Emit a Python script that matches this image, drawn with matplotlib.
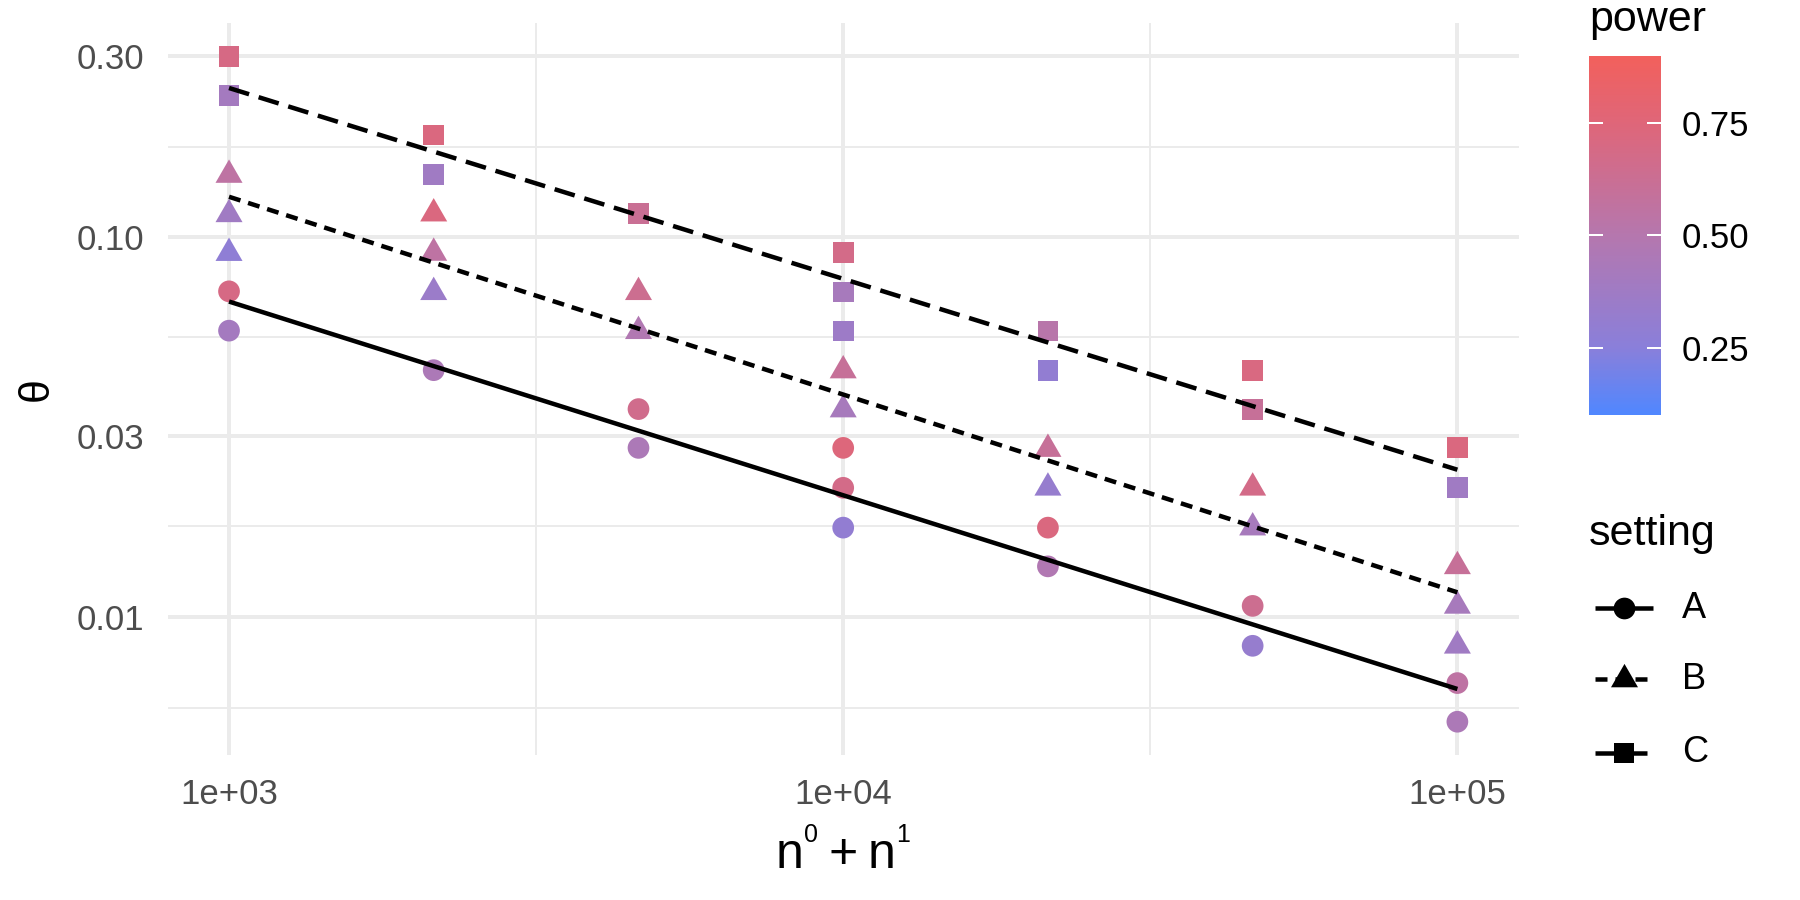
import numpy as np
import matplotlib
matplotlib.use("Agg")
import matplotlib.pyplot as plt
from matplotlib.colors import LinearSegmentedColormap, Normalize
from matplotlib.cm import ScalarMappable
from matplotlib.path import Path
from matplotlib.transforms import IdentityTransform

plt.rcParams['font.family'] = ['Liberation Sans', 'DejaVu Sans']
plt.rcParams['lines.scale_dashes'] = False

# --- data (n0 + n1, theta, power) ---
n_A = [1000, 1000, 2154, 4642, 4642, 10000, 10000, 10000, 21544, 21544, 46416, 46416, 100000, 100000]
theta_A = [0.0721, 0.0568, 0.0447, 0.0353, 0.0279, 0.0279, 0.0219, 0.0172, 0.0172, 0.0136, 0.0107, 0.0084, 0.0067, 0.0053]
power_A = [0.70, 0.40, 0.45, 0.66, 0.45, 0.74, 0.68, 0.30, 0.72, 0.48, 0.64, 0.32, 0.55, 0.45]

n_B = [1000, 1000, 1000, 2154, 2154, 2154, 4642, 4642, 10000, 10000, 21544, 21544, 46416, 46416, 100000, 100000, 100000]
theta_B = [0.146, 0.115, 0.0909, 0.1155, 0.091, 0.0717, 0.0717, 0.0566, 0.0446, 0.0352, 0.0277, 0.0219, 0.0219, 0.0172, 0.0136, 0.0107, 0.0084]
power_B = [0.55, 0.38, 0.28, 0.72, 0.55, 0.35, 0.64, 0.48, 0.60, 0.42, 0.60, 0.32, 0.68, 0.42, 0.60, 0.42, 0.38]

n_C = [1000, 1000, 2154, 2154, 4642, 10000, 10000, 10000, 21544, 21544, 46416, 46416, 100000, 100000]
theta_C = [0.300, 0.236, 0.186, 0.1466, 0.1155, 0.0911, 0.0718, 0.0567, 0.0567, 0.0446, 0.0446, 0.0352, 0.0280, 0.0219]
power_C = [0.70, 0.40, 0.72, 0.38, 0.62, 0.68, 0.42, 0.36, 0.52, 0.30, 0.71, 0.60, 0.72, 0.38]

setting_labels = ['A', 'B', 'C']
x_breaks = [1e3, 1e4, 1e5]
x_break_labels = ['1e+03', '1e+04', '1e+05']
y_breaks = [0.01, 0.03, 0.10, 0.30]
y_break_labels = ['0.01', '0.03', '0.10', '0.30']
power_limits = (0.10, 0.90)
power_breaks = [0.25, 0.50, 0.75]
power_break_labels = ['0.25', '0.50', '0.75']

W, H = 1800, 900
PT = 72 / 100  # points per pixel at dpi 100

# triangle centred on its centroid, like R's pch 17
TRI = Path([(0, 1), (-0.866, -0.5), (0.866, -0.5), (0, 1)],
           [Path.MOVETO, Path.LINETO, Path.LINETO, Path.CLOSEPOLY])

cmap = LinearSegmentedColormap.from_list('power', [
    (0.0, '#5087FF'), (0.1875, '#8A7FDA'), (0.5, '#B577AE'),
    (0.8125, '#DF6679'), (1.0, '#F2605C')])
norm = Normalize(*power_limits)

groups = [
    (n_A, theta_A, power_A, 'o', (21.7 * PT) ** 2, dict(linestyle='-')),
    (n_B, theta_B, power_B, TRI, (31.2 * PT) ** 2, dict(dashes=(12 * PT, 8 * PT))),
    (n_C, theta_C, power_C, 's', (20.7 * PT) ** 2, dict(dashes=(21 * PT, 10 * PT))),
]

fig = plt.figure(figsize=(18, 9), dpi=100)
ax = fig.add_axes([167.6 / W, 1 - 755 / H, (1518.8 - 167.6) / W, (755 - 23) / H])
ax.set_xscale('log')
ax.set_yscale('log')

for n, th, pw, mk, size, ls in groups:
    ax.scatter(n, th, c=pw, cmap=cmap, norm=norm, marker=mk, s=size, linewidths=0, zorder=2)

# straight-line fit in log-log space per setting
for n, th, pw, mk, size, ls in groups:
    lx = np.log10(n)
    slope, icpt = np.polyfit(lx, np.log10(th), 1)
    xs = np.array([lx.min(), lx.max()])
    ax.plot(10 ** xs, 10 ** (icpt + slope * xs), color='black', lw=4.5 * PT,
            solid_capstyle='butt', dash_capstyle='butt', zorder=3, **ls)


def minor_breaks(breaks):
    lb = np.log10(breaks)
    ext = np.concatenate([[lb[0] - (lb[1] - lb[0])], lb, [lb[-1] + (lb[-1] - lb[-2])]])
    return 10 ** ((ext[:-1] + ext[1:]) / 2)


ax.set_xticks(x_breaks)
ax.set_xticklabels(x_break_labels)
ax.set_xticks(minor_breaks(x_breaks), minor=True)
ax.set_yticks(y_breaks)
ax.set_yticklabels(y_break_labels)
ax.set_yticks(minor_breaks(y_breaks), minor=True)
ax.xaxis.set_minor_formatter(plt.NullFormatter())
ax.yaxis.set_minor_formatter(plt.NullFormatter())

# ggplot-style 5% expansion in log space (after ticks, which would widen the view)
all_x = np.log10(n_A + n_B + n_C)
all_y = np.log10(theta_A + theta_B + theta_C)
ax.set_xlim(10 ** (all_x.min() - 0.05 * np.ptp(all_x)), 10 ** (all_x.max() + 0.05 * np.ptp(all_x)))
ax.set_ylim(10 ** (all_y.min() - 0.05 * np.ptp(all_y)), 10 ** (all_y.max() + 0.05 * np.ptp(all_y)))

ax.tick_params(which='both', length=0)
ax.tick_params(axis='both', labelsize=25, labelcolor='#4D4D4D', pad=23 * PT)
ax.set_axisbelow(True)
ax.grid(which='major', color='#EBEBEB', lw=4 * PT)
ax.grid(which='minor', color='#EBEBEB', lw=2 * PT)
for sp in ax.spines.values():
    sp.set_visible(False)

# axis titles
fig.text(37 / W, 1 - 389 / H, '\u03b8', rotation=90, ha='center', va='center', fontsize=31)

renderer = fig.canvas.get_renderer()
pieces = [('n', 36, 0, 0), ('0', 18, 26, 1), ('+', 36, 0, 10), ('n', 36, 0, 10), ('1', 18, 26, 1)]
texts, widths, total = [], [], 0
for s, fs, rise, gap in pieces:
    t = fig.text(0, 0, s, fontsize=fs, ha='left', va='baseline', transform=IdentityTransform())
    w = t.get_window_extent(renderer).width
    texts.append(t)
    widths.append(w)
    total += w + gap
x0 = 843 - total / 2
for t, w, (s, fs, rise, gap) in zip(texts, widths, pieces):
    x0 += gap
    t.set_position((x0, H - 868 + rise))
    x0 += w

# colour bar legend
fig.text(1589 / W, 1 - 31 / H, 'power', fontsize=31, ha='left', va='baseline')
cax = fig.add_axes([1589 / W, 1 - 415 / H, 71.6 / W, 359.3 / H])
cb = fig.colorbar(ScalarMappable(norm=norm, cmap=cmap), cax=cax, ticks=power_breaks)
cb.set_ticklabels(power_break_labels)
cb.outline.set_visible(False)
cax.minorticks_off()
cax.tick_params(which='both', direction='in', length=14 * PT, width=2 * PT, color='white',
                left=True, right=True, labelleft=False, labelright=True,
                labelsize=25, labelcolor='black', pad=21.4 * PT)

# shape / linetype legend
fig.text(1589 / W, 1 - 545 / H, 'setting', fontsize=31, ha='left', va='baseline')
lax = fig.add_axes([0, 0, 1, 1])
lax.set_xlim(0, W)
lax.set_ylim(H, 0)
lax.axis('off')
key_y = [608.3, 679.3, 752.7]
for (n, th, pw, mk, size, ls), ky, lab in zip(groups, key_y, setting_labels):
    lax.plot([1595, 1652.7], [ky, ky], color='black', lw=4.5 * PT,
             solid_capstyle='butt', dash_capstyle='butt', **ls)
    lax.scatter([1623.8], [ky], marker=mk, s=size, color='black', linewidths=0, zorder=3)
    lax.text(1681.7, ky, lab, fontsize=26, ha='left', va='center')

fig.savefig('out.png', dpi=100, facecolor='white')
